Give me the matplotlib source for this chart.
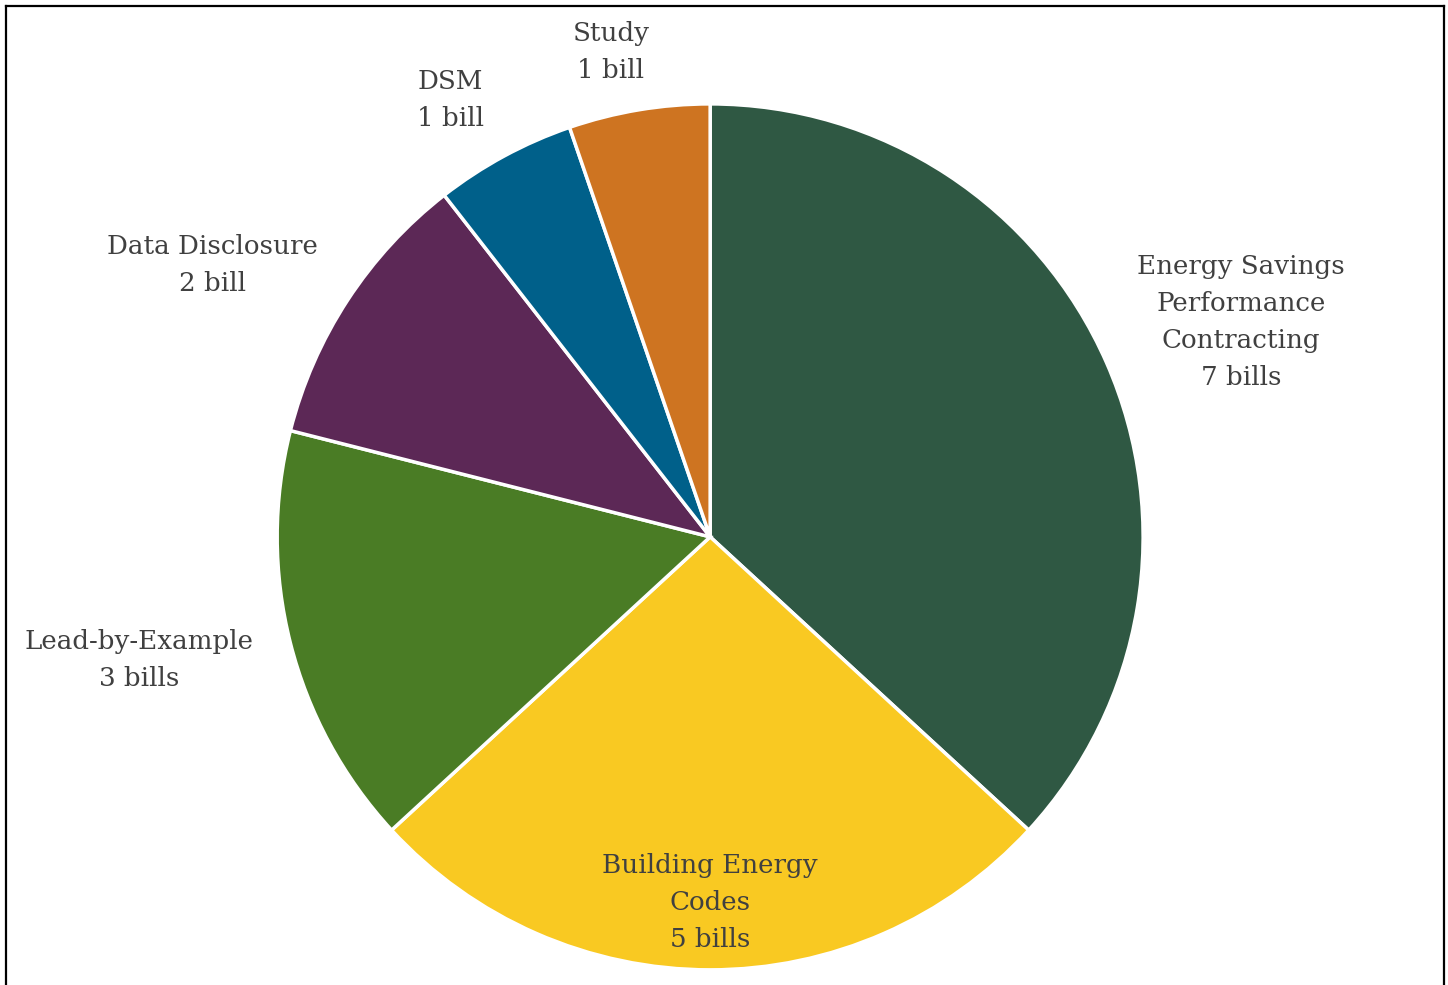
import matplotlib
matplotlib.use('Agg')
import matplotlib.pyplot as plt
from matplotlib.lines import Line2D

# dados do gráfico
categorias = ['Energy Savings\nPerformance\nContracting', 'Building Energy\nCodes',
              'Lead-by-Example', 'Data Disclosure', 'DSM', 'Study']
contagens = [7, 5, 3, 2, 1, 1]
rotulos_contagem = ['7 bills', '5 bills', '3 bills', '2 bill', '1 bill', '1 bill']
cores = ['#2F5843', '#F9C922', '#4A7C25', '#5C2856', '#00608A', '#CE7421']

# posição dos rótulos (em raios do pizza)
pos_rotulos = [(1.226, 0.497), (0.0, -0.845), (-1.319, -0.284),
               (-1.150, 0.628), (-0.600, 1.009), (-0.229, 1.120)]

fig = plt.figure(figsize=(14.48, 9.85), dpi=100)
ax = fig.add_axes([0, 0, 1, 1])
ax.pie(contagens, colors=cores, startangle=90, counterclock=False, radius=1,
       wedgeprops=dict(edgecolor='white', linewidth=2.5))

for cat, rot, (x, y) in zip(categorias, rotulos_contagem, pos_rotulos):
    ax.text(x, y, cat + '\n' + rot, ha='center', va='center', fontsize=18.8,
            family='DejaVu Serif', color='#404040', linespacing=1.6)

ax.set_xlim(-1.640, 1.704)
ax.set_ylim(-1.035, 1.240)
ax.set_aspect('equal')
ax.axis('off')

# moldura
W, H = 1448, 985
fx = lambda p: p / W
fy = lambda p: 1 - p / H
fig.add_artist(Line2D([fx(6), fx(6)], [fy(6), 0], color='black', lw=1.6))
fig.add_artist(Line2D([fx(6), fx(1444)], [fy(6), fy(6)], color='black', lw=1.6))
fig.add_artist(Line2D([fx(1444), fx(1444)], [fy(6), 0], color='black', lw=1.6))

fig.savefig('out.png', dpi=100)
